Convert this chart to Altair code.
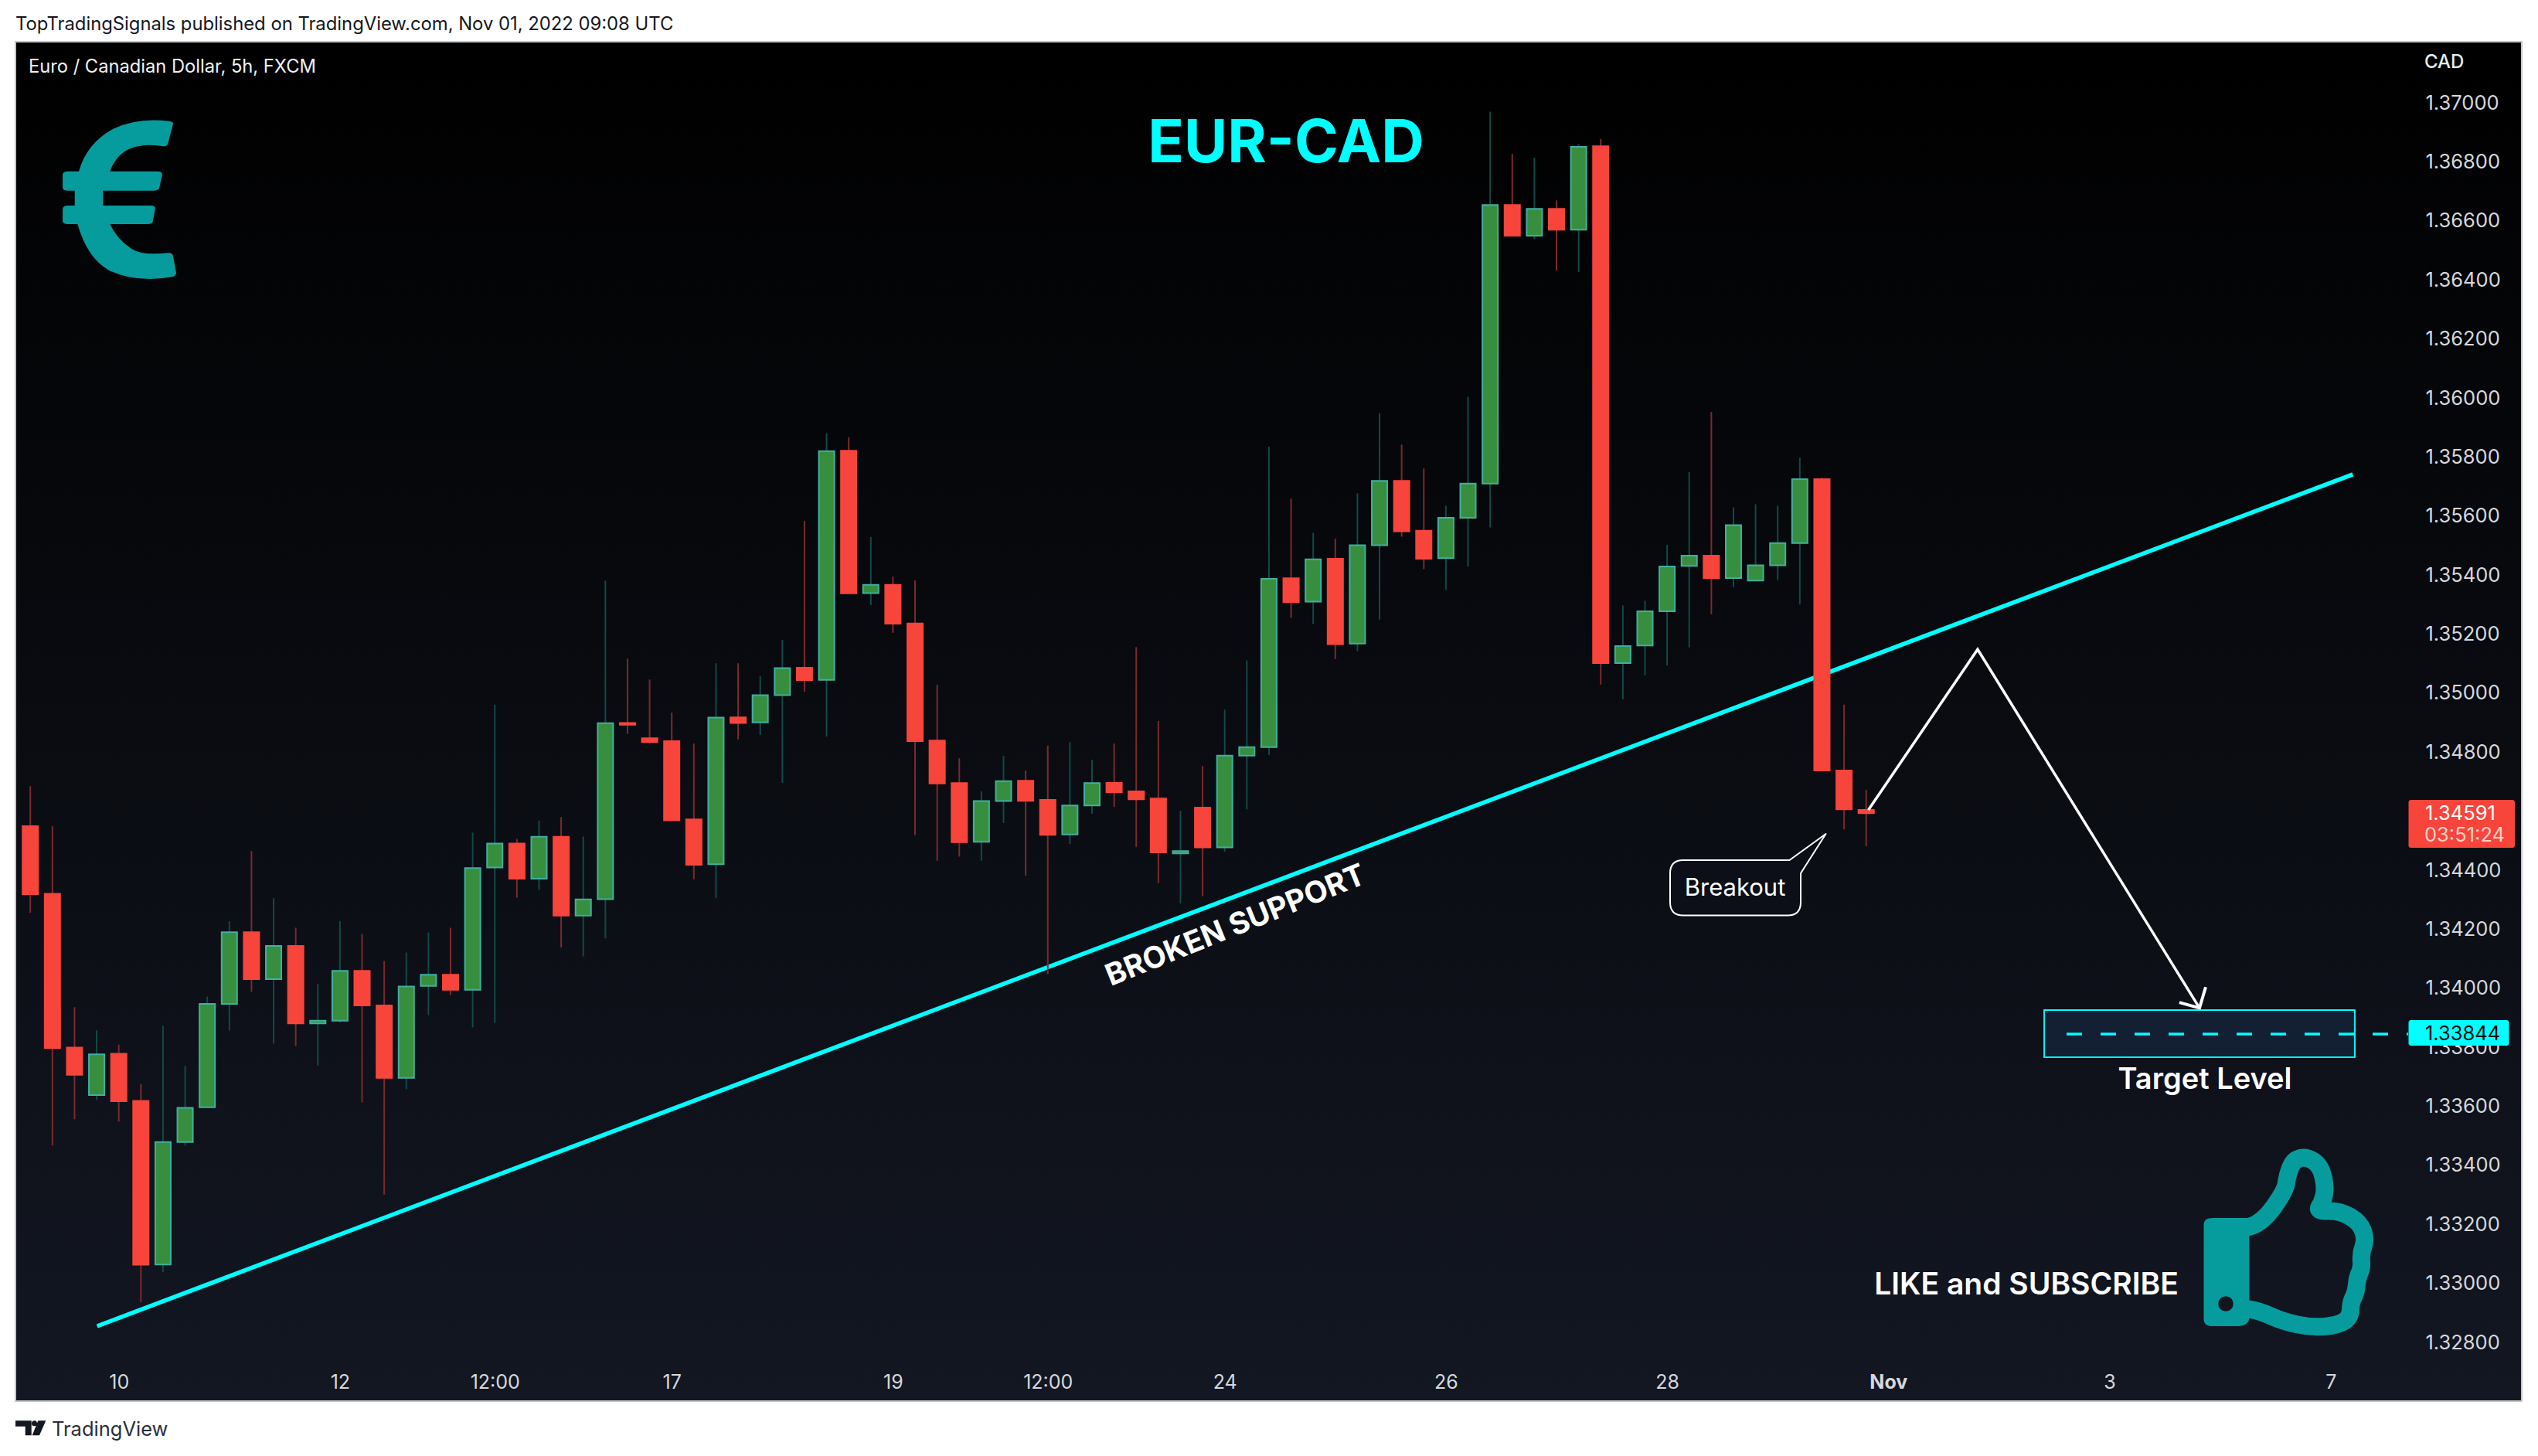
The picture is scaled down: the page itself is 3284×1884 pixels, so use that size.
import re
import altair as alt
import pandas as pd

# ---------- candles ----------
direction = ("R R R G R R G G G G R G R G G R R G G R G G R G R G G "
             "R R R R G R G G R G R G R R R R G G R R G G R R R "
             "G R G G G R G R G G R R G G G R G R G R G G G G R G G G G R R R").split()
high = [1.34684,1.34549,1.33935,1.33856,1.33808,1.33675,1.33872,1.33736,1.33971,1.34226,
        1.34464,1.34304,1.34204,1.34013,1.34226,1.34183,1.34091,1.34120,1.34188,1.34204,
        1.34526,1.34960,1.34505,1.34567,1.34579,1.34513,1.35380,1.35116,1.35045,1.34933,
        1.34828,1.35100,1.35100,1.35056,1.35179,1.35582,1.35880,1.35866,1.35528,1.35394,
        1.35381,1.35027,1.34778,1.34666,1.34786,1.34737,1.34821,1.34833,1.34773,1.34828,
        1.35155,1.34904,1.34600,1.34752,1.34943,1.35110,1.35834,1.35658,1.35542,1.35522,
        1.35676,1.35948,1.35841,1.35760,1.35634,1.36003,1.36969,1.36826,1.36813,1.36668,
        1.36859,1.36877,1.35296,1.35312,1.35501,1.35748,1.35952,1.35628,1.35639,1.35634,
        1.35797,1.35729,1.34960,1.34671]
body_top = [1.34548,1.34319,1.33798,1.33775,1.33777,1.33617,1.33478,1.33594,1.33946,1.34189,
            1.34189,1.34142,1.34142,1.33889,1.34058,1.34058,1.33941,1.34005,1.34045,1.34045,
            1.34406,1.34489,1.34489,1.34512,1.34512,1.34300,1.34897,1.34898,1.34846,1.34836,
            1.34571,1.34916,1.34917,1.34992,1.35084,1.35085,1.35819,1.35820,1.35366,1.35366,
            1.35235,1.34838,1.34694,1.34633,1.34701,1.34702,1.34637,1.34618,1.34694,1.34695,
            1.34666,1.34642,1.34464,1.34611,1.34787,1.34816,1.35386,1.35388,1.35452,1.35454,
            1.35500,1.35718,1.35718,1.35549,1.35593,1.35709,1.36653,1.36653,1.36640,1.36640,
            1.36850,1.36852,1.35158,1.35276,1.35428,1.35465,1.35465,1.35568,1.35432,1.35507,
            1.35724,1.35724,1.34737,1.34603]
body_bottom = [1.34318,1.33796,1.33706,1.33637,1.33616,1.33062,1.33063,1.33478,1.33596,1.33946,
               1.34030,1.34030,1.33880,1.33880,1.33889,1.33941,1.33695,1.33695,1.34007,1.33994,
               1.33994,1.34408,1.34370,1.34370,1.34245,1.34245,1.34301,1.34892,1.34833,1.34568,
               1.34417,1.34419,1.34898,1.34900,1.34992,1.35043,1.35044,1.35337,1.35338,1.35234,
               1.34836,1.34693,1.34494,1.34495,1.34633,1.34634,1.34519,1.34520,1.34618,1.34663,
               1.34639,1.34459,1.34456,1.34476,1.34476,1.34787,1.34816,1.35307,1.35309,1.35165,
               1.35167,1.35500,1.35547,1.35454,1.35456,1.35593,1.35709,1.36549,1.36549,1.36569,
               1.36569,1.35101,1.35101,1.35160,1.35276,1.35430,1.35388,1.35389,1.35380,1.35432,
               1.35507,1.34737,1.34605,1.34592]
low = [1.34255,1.33466,1.33555,1.33621,1.33547,1.32935,1.33037,1.33466,1.33596,1.33856,
       1.33987,1.33811,1.33803,1.33737,1.33883,1.33612,1.33300,1.33657,1.33908,1.33976,
       1.33866,1.33882,1.34306,1.34332,1.34137,1.34107,1.34168,1.34861,1.34830,1.34564,
       1.34368,1.34304,1.34842,1.34857,1.34695,1.35004,1.34852,1.35337,1.35297,1.35203,
       1.34518,1.34431,1.34445,1.34431,1.34559,1.34380,1.34047,1.34488,1.34590,1.34614,
       1.34478,1.34355,1.34287,1.34311,1.34462,1.34605,1.34789,1.35254,1.35233,1.35114,
       1.35141,1.35248,1.35529,1.35419,1.35349,1.35428,1.35560,1.36549,1.36538,1.36431,
       1.36426,1.35028,1.34978,1.35059,1.35092,1.35154,1.35266,1.35358,1.35380,1.35382,
       1.35299,1.34737,1.34537,1.34480]

# ---------- axes ----------
price_ticks = [1.328,1.330,1.332,1.334,1.336,1.338,1.340,1.342,1.344,1.346,1.348,1.350,1.352,
               1.354,1.356,1.358,1.360,1.362,1.364,1.366,1.368,1.370]
time_pos = [4,14,21,29,39,46,54,64,74,84,94,104]
time_lab = ["10","12","12:00","17","19","12:00","24","26","28","Nov","3","7"]

# ---------- drawings on the chart ----------
trend_i = [3.02,105.0]
trend_p = [1.32854,1.3574]
path_i = [83.1,88.04,98.07]
path_p = [1.34603,1.35147,1.33932]
head_i = [97.16,98.07,98.35]
head_p = [1.33951,1.33932,1.34003]
box_i = [91.05,105.09]
box_p = [1.33925,1.33765]
dash_i = [92.06,107.5]
target_price = 1.33844

CYAN = "#00ffff"
TEAL = "#069c9e"
RED = "#f7453b"
GREEN = "#388e3f"
GREEN_EDGE = "#3fb0a0"
FONT = "Inter"
LABEL = "#d6d8de"

W, H = 3243, 1759
OX, OY = 20, 54
def px(x): return x - OX
def py(y): return y - OY

xs = alt.Scale(domain=[-0.671, 112.64], nice=False, zero=False, padding=0)
ys = alt.Scale(domain=[1.32600, 1.37206], nice=False, zero=False, padding=0)
label_expr = "[" + ",".join(repr(t) for t in time_lab) + "][indexof([" + ",".join(map(str, time_pos)) + "],datum.value)]"
x_axis = alt.Axis(values=time_pos, labelExpr=label_expr, title=None, orient="bottom", offset=-25,
                  domain=False, ticks=False, grid=False, labelPadding=0, labelBaseline="middle",
                  labelFont=FONT, labelFontSize=25, labelColor=LABEL, labelOverlap=False,
                  labelFlush=False, labelBound=False, labelAlign="center",
                  labelFontWeight={"condition": {"test": "datum.value==84", "value": "bold"}, "value": "normal"})
y_axis = alt.Axis(values=price_ticks, format=".5f", title=None, orient="right", offset=-125,
                  domain=False, ticks=False, grid=False, labelPadding=0, labelAlign="left",
                  labelBaseline="middle", labelFont=FONT, labelFontSize=25.5, labelColor=LABEL,
                  labelOffset=0.5, labelOverlap=False, labelFlush=False, labelBound=False)
X = lambda f: alt.X(f, type="quantitative", scale=xs, axis=x_axis)
Y = lambda f: alt.Y(f, type="quantitative", scale=ys, axis=y_axis)

df = pd.DataFrame({"i": list(range(len(high))), "dir": direction, "high": high, "low": low,
                   "top": body_top, "bottom": body_bottom})
df["fill"] = df["dir"].map({"R": RED, "G": GREEN})
df["edge"] = df["dir"].map({"R": RED, "G": GREEN_EDGE})
df["wick"] = df["dir"].map({"R": "#7c2a2c", "G": "#0f4b48"})

def line(xv, yv, color, width, dash=None, cap="butt"):
    kw = {"strokeDash": dash} if dash else {}
    return alt.Chart(pd.DataFrame({"i": xv, "p": yv, "o": list(range(len(xv)))})).mark_line(
        color=color, strokeWidth=width, strokeCap=cap, strokeJoin="miter", **kw
    ).encode(x=X("i"), y=Y("p"), order="o:Q")

def txt(t, x, y, size, color="white", weight=400, align="left", angle=None, font=FONT):
    kw = {"angle": angle} if angle is not None else {}
    return alt.Chart(pd.DataFrame({"t": [t]})).mark_text(
        font=font, fontSize=size, fontWeight=weight, color=color, align=align, baseline="middle", **kw
    ).encode(text="t:N", x=alt.value(px(x)), y=alt.value(py(y)))

def tag(x0, x1, y0, y1, color):
    return alt.Chart(pd.DataFrame({"a": [0]})).mark_rect(color=color, cornerRadius=3).encode(
        x=alt.value(px(x0)), x2=alt.value(px(x1)), y=alt.value(py(y0)), y2=alt.value(py(y1)))

def smooth(points):
    out = [f"M{points[0][0]} {points[0][1]}"]
    for k in range(1, len(points) - 1):
        a, b = points[k], points[k + 1]
        end = ((a[0] + b[0]) / 2, (a[1] + b[1]) / 2) if k < len(points) - 2 else b
        out.append(f"Q{a[0]} {a[1]} {end[0]} {end[1]}")
    return " ".join(out)

def icon(path, ox=0, oy=0, sx=1.0, sy=1.0, fill=None, stroke=None, sw=0):
    nums = [float(n) for n in re.findall(r"-?\d+\.?\d*", path)]
    xv = [ox + n * sx for n in nums[0::2]]
    yv = [oy + n * sy for n in nums[1::2]]
    cx, cy = (min(xv) + max(xv)) / 2, (min(yv) + max(yv)) / 2
    R = max(max(xv) - min(xv), max(yv) - min(yv)) / 2
    it = iter(range(len(nums)))
    def rep(m):
        k = next(it)
        v = float(m.group(0))
        return f"{((ox + v * sx) - cx) / R:.4f}" if k % 2 == 0 else f"{((oy + v * sy) - cy) / R:.4f}"
    shape = re.sub(r"-?\d+\.?\d*", rep, path)
    kw = dict(shape=shape, size=(2 * R) ** 2, opacity=1)
    if fill:
        kw.update(filled=True, fill=fill)
    else:
        kw.update(filled=False, fillOpacity=0)
    if stroke:
        kw.update(stroke=stroke, strokeWidth=sw, strokeJoin="round", strokeCap="round")
    else:
        kw.update(strokeWidth=0)
    return alt.Chart(pd.DataFrame({"a": [0]})).mark_point(**kw).encode(x=alt.value(px(cx)), y=alt.value(py(cy)))

euro = ("M428 482 L415 560 Q412 570 400 567 Q330 550 295 605 Q280 630 272 665 L390 665 Q402 665 401 680 "
        "L394 730 Q392 740 380 740 L255 740 L255 798 L372 798 Q385 798 384 810 L378 860 Q376 870 365 870 "
        "L272 870 Q290 930 325 965 Q350 992 415 982 Q426 980 428 992 L436 1060 Q436 1072 425 1075 "
        "Q340 1100 270 1050 Q215 1000 192 870 L168 870 Q155 870 155 858 L155 812 Q155 798 168 798 L185 798 "
        "L185 740 L168 740 Q155 740 155 728 L155 680 Q155 665 168 665 L195 665 Q215 555 280 500 "
        "Q340 455 418 470 Q430 473 428 482 Z")
hand = smooth([(1073,1095),(1095,1088),(1135,1020),(1138,990),(1148,958),(1170,950),(1195,968),(1204,1015),
               (1198,1045),(1188,1063),(1228,1062),(1262,1085),(1273,1120),(1264,1150),(1266,1180),(1258,1200),
               (1256,1230),(1247,1250),(1246,1282),(1225,1298),(1180,1303),(1130,1290),(1090,1268),(1073,1265)])
cuff = ("M1010 1077 L1073 1077 L1073 1285 Q1070 1300 1050 1300 L1010 1300 Q995 1300 995 1285 L995 1092 "
        "Q995 1077 1010 1077 Z")
callout = ("M2178 1113 L2315.5 1113 L2362.5 1079 L2330 1130 L2330 1167.5 Q2330 1184.5 2313 1184.5 L2178 1184.5 "
           "Q2161 1184.5 2161 1167.5 L2161 1130 Q2161 1113 2178 1113 Z")
tv_logo = ("M20 1838.3 L40.7 1838.3 L40.7 1857.3 L32.7 1857.3 L32.7 1845.7 L20 1845.7 Z "
           "M41 1841.8 Q41 1838.3 44.5 1838.3 Q48 1838.3 48 1841.8 Q48 1845.3 44.5 1845.3 Q41 1845.3 41 1841.8 Z "
           "M49.3 1838.3 L59.3 1838.3 L51 1857.3 L41.7 1857.3 Z")

wicks = alt.Chart(df).mark_rule(strokeWidth=2).encode(
    x=X("i"), y=Y("high"), y2="low:Q", color=alt.Color("wick:N", scale=None))
bodies = alt.Chart(df).mark_bar(size=20, strokeWidth=2).encode(
    x=X("i"), y=Y("top"), y2="bottom:Q",
    fill=alt.Fill("fill:N", scale=None), stroke=alt.Stroke("edge:N", scale=None))
box = alt.Chart(pd.DataFrame({"a": [box_i[0]], "b": [box_i[1]], "c": [box_p[0]], "d": [box_p[1]]})).mark_rect(
    fill="#131f33", stroke=CYAN, strokeWidth=2).encode(x=X("a"), x2="b:Q", y=Y("c"), y2="d:Q")

layers = [
    line(trend_i, trend_p, CYAN, 5.5),
    wicks,
    bodies,
    icon(callout, fill="#0c0f17", stroke="white", sw=2),
    txt("Breakout", 2245, 1150, 31, align="center"),
    line(path_i, path_p, "white", 3.5),
    line(head_i, head_p, "white", 4),
    box,
    line(dash_i, [target_price, target_price], CYAN, 3.5, dash=[20, 24]),
    tag(3116.5, 3254, 1035, 1097, RED),
    txt("1.34591", 3138, 1052.5, 25.5, color="#ffffff"),
    txt("03:51:24", 3137, 1080.5, 25.5, color="#ffd0cc"),
    tag(3116.5, 3246.5, 1320, 1353, CYAN),
    txt("1.33844", 3138, 1337.5, 25.5, color="#0a0a0a"),
    txt("CAD", 3137, 81, 24, color="#e8e9ec", weight=500),
    txt("Euro / Canadian Dollar, 5h, FXCM", 37, 87, 23.7, color="#f0f1f3"),
    txt("EUR-CAD", 1664, 187, 77, color=CYAN, weight=700, align="center"),
    txt("BROKEN SUPPORT", 1599, 1198, 39, weight=700, align="center", angle=338),
    txt("Target Level", 2853, 1398, 38, weight=600, align="center"),
    txt("LIKE and SUBSCRIBE", 2622, 1663, 39, weight=600, align="center"),
    txt("TopTradingSignals published on TradingView.com, Nov 01, 2022 09:08 UTC", 20, 32, 23.8, color="#131722"),
    txt("TradingView", 67, 1850, 25.5, color="#2a2e39"),
    icon(euro, sx=1/1.912, sy=1/3, fill=TEAL),
    icon(cuff, ox=2100, oy=900, sx=1/1.324, sy=1/1.593, fill=TEAL),
    icon(hand, ox=2100, oy=900, sx=1/1.324, sy=1/1.593, stroke=TEAL, sw=23),
    alt.Chart(pd.DataFrame({"a": [0]})).mark_point(shape="circle", size=380, filled=True, fill="#12161f", opacity=1, strokeWidth=0)
       .encode(x=alt.value(px(2880)), y=alt.value(py(1687))),
    icon(tv_logo, fill="#131722"),
]

gradient = ("{gradient:'linear',x1:0,y1:0,x2:0,y2:1,stops:[{offset:0,color:'#000000'},"
            "{offset:1,color:'#131722'}]}")
chart = alt.layer(*layers).properties(
    width=W, height=H,
    autosize=alt.AutoSizeParams(type="none"),
    padding={"left": 12, "top": 46, "right": 10, "bottom": 60},
    background="white",
).configure_view(fill={"expr": gradient}, stroke="#c4c6cc", strokeWidth=2)

chart.save("out.html", embed_options={"renderer": "svg", "actions": False})
